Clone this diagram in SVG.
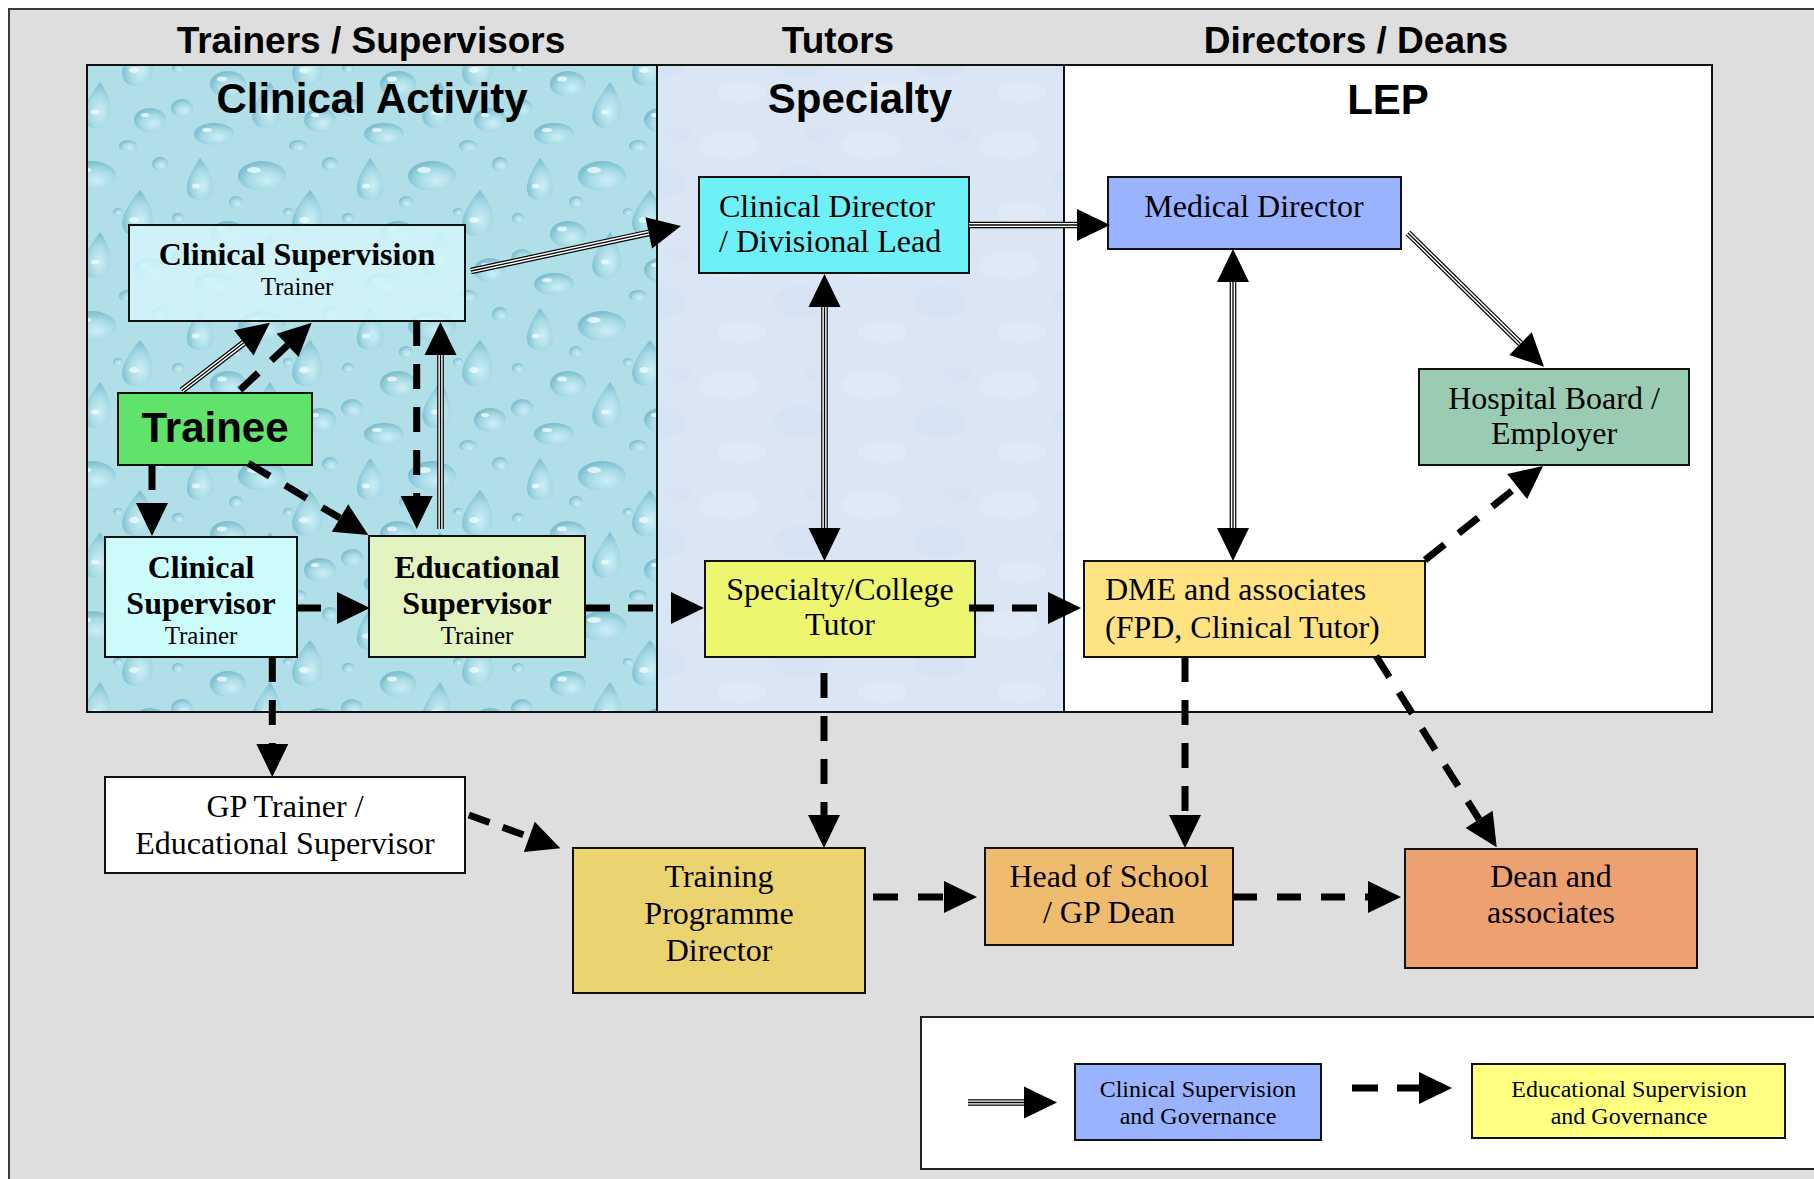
<svg xmlns="http://www.w3.org/2000/svg" width="1814" height="1179" viewBox="0 0 1814 1179">
<style>
.hdr{font-family:"Liberation Sans",Arial,sans-serif;font-weight:bold;font-size:37px;text-anchor:middle;fill:#000}
.ttl{font-family:"Liberation Sans",Arial,sans-serif;font-weight:bold;font-size:42px;text-anchor:middle;fill:#000}
.box{stroke:#111;stroke-width:2}
.tx{font-family:"Liberation Serif","Times New Roman",serif;font-size:32px;text-anchor:middle;fill:#000}
.txl{font-family:"Liberation Serif","Times New Roman",serif;font-size:32px;text-anchor:start;fill:#000}
.txb{font-family:"Liberation Serif","Times New Roman",serif;font-size:32px;font-weight:bold;text-anchor:middle;fill:#000}
.txs{font-family:"Liberation Serif","Times New Roman",serif;font-size:25px;text-anchor:middle;fill:#000}
.leg{font-family:"Liberation Serif","Times New Roman",serif;font-size:24px;text-anchor:middle;fill:#000}
.t1{fill:none;stroke:#000;stroke-width:6.6}
.t2{fill:none;stroke:#fff;stroke-width:4.2}
.t3{fill:none;stroke:#000;stroke-width:1.3}
.d{fill:none;stroke:#000;stroke-width:7;stroke-dasharray:25 18}
.dr{fill:url(#dropg)}
.hl{fill:#eefbfd;opacity:0.8}
</style>
<defs>
<marker id="ah" markerUnits="userSpaceOnUse" markerWidth="40" markerHeight="40" viewBox="0 -20 40 40" refX="0" refY="0" orient="auto-start-reverse" overflow="visible">
<path d="M0,-16 L33,0 L0,16 Z" fill="#000"/>
</marker>
<radialGradient id="dropg" cx="0.6" cy="0.65" r="0.62">
<stop offset="0" stop-color="#cdeff5"/>
<stop offset="0.6" stop-color="#a6dae5"/>
<stop offset="1" stop-color="#7ebfcf"/>
</radialGradient>
<pattern id="drops" patternUnits="userSpaceOnUse" width="170" height="150">
<rect width="170" height="150" fill="#b0dfe8"/>
<path class="dr" d="M30,8 C40,20 46,34 42,44 C38,52 22,52 18,44 C14,34 22,20 30,8 Z"/>
<ellipse class="hl" cx="26" cy="36" rx="4" ry="2.5"/>
<ellipse class="dr" cx="92" cy="26" rx="24" ry="15"/>
<ellipse class="hl" cx="84" cy="20" rx="7" ry="3"/>
<path class="dr" d="M140,40 C152,54 156,70 150,80 C144,88 128,88 124,80 C118,70 128,54 140,40 Z"/>
<ellipse class="hl" cx="134" cy="70" rx="5" ry="3"/>
<ellipse class="dr" cx="58" cy="84" rx="18" ry="13"/>
<ellipse class="hl" cx="52" cy="79" rx="5" ry="2.5"/>
<ellipse class="dr" cx="12" cy="108" rx="11" ry="9"/>
<path class="dr" d="M100,82 C110,96 114,112 108,122 C102,130 88,130 84,122 C78,112 90,96 100,82 Z"/>
<ellipse class="hl" cx="95" cy="112" rx="4" ry="2.5"/>
<ellipse class="dr" cx="150" cy="120" rx="16" ry="12"/>
<ellipse class="hl" cx="145" cy="115" rx="4" ry="2"/>
<ellipse class="dr" cx="44" cy="134" rx="20" ry="11"/>
<ellipse class="hl" cx="37" cy="130" rx="5" ry="2"/>
<ellipse class="dr" cx="128" cy="146" rx="9" ry="6"/>
<ellipse class="dr" cx="66" cy="52" rx="7" ry="6"/>
<ellipse class="dr" cx="160" cy="14" rx="8" ry="7"/>
<ellipse class="dr" cx="118" cy="62" rx="5" ry="4"/>
<ellipse class="dr" cx="8" cy="68" rx="6" ry="5"/>
</pattern>
<pattern id="paper" patternUnits="userSpaceOnUse" width="140" height="120">
<rect width="140" height="120" fill="#dae6f4"/>
<ellipse cx="30" cy="25" rx="30" ry="14" fill="#e6eef9" opacity="0.5"/>
<ellipse cx="100" cy="62" rx="26" ry="16" fill="#cfdcef" opacity="0.35"/>
<ellipse cx="42" cy="92" rx="24" ry="11" fill="#e6eef9" opacity="0.5"/>
<ellipse cx="118" cy="14" rx="14" ry="8" fill="#d2def0" opacity="0.35"/>
</pattern>
</defs>

<g id="background">
<rect x="9" y="9" width="1830" height="1190" fill="#dedede" stroke="#3a3a3a" stroke-width="2"/>
<text class="hdr" x="371" y="53">Trainers / Supervisors</text>
<text class="hdr" x="838" y="53">Tutors</text>
<text class="hdr" x="1356" y="53">Directors / Deans</text>
</g>

<g id="panel-clinical-activity">
<rect x="87" y="65" width="570" height="647" fill="url(#drops)" stroke="#111" stroke-width="2"/>
<text class="ttl" x="372" y="113">Clinical Activity</text>
</g>
<g id="panel-specialty">
<rect x="657" y="65" width="407" height="647" fill="url(#paper)" stroke="#111" stroke-width="2"/>
<text class="ttl" x="860" y="113">Specialty</text>
</g>
<g id="panel-lep">
<rect x="1064" y="65" width="648" height="647" fill="#ffffff" stroke="#111" stroke-width="2"/>
<text class="ttl" x="1388" y="114">LEP</text>
</g>

<g id="n-clinical-supervision">
<rect class="box" x="129" y="225" width="336" height="96" fill="#d3f6f9" fill-opacity="0.85"/>
<text class="txb" x="297" y="265">Clinical Supervision</text>
<text class="txs" x="297" y="295">Trainer</text>
</g>
<g id="n-trainee">
<rect class="box" x="118" y="393" width="194" height="72" fill="#5fe36a"/>
<text class="ttl" x="215" y="442">Trainee</text>
</g>
<g id="n-clinical-supervisor">
<rect class="box" x="105" y="537" width="192" height="120" fill="#cdfcfd"/>
<text class="txb" x="201" y="578">Clinical</text>
<text class="txb" x="201" y="614">Supervisor</text>
<text class="txs" x="201" y="644">Trainer</text>
</g>
<g id="n-educational-supervisor">
<rect class="box" x="369" y="536" width="216" height="121" fill="#e4f4c1"/>
<text class="txb" x="477" y="578">Educational</text>
<text class="txb" x="477" y="614">Supervisor</text>
<text class="txs" x="477" y="644">Trainer</text>
</g>
<g id="n-gp-trainer">
<rect class="box" x="105" y="777" width="360" height="96" fill="#ffffff"/>
<text class="tx" x="285" y="817">GP Trainer /</text>
<text class="tx" x="285" y="854">Educational Supervisor</text>
</g>
<g id="n-clinical-director">
<rect class="box" x="699" y="177" width="270" height="96" fill="#6ef0f7"/>
<text class="txl" x="719" y="217">Clinical Director</text>
<text class="txl" x="719" y="252">/ Divisional Lead</text>
</g>
<g id="n-medical-director">
<rect class="box" x="1108" y="177" width="293" height="72" fill="#99b3ff" stroke="#333"/>
<text class="tx" x="1254" y="217">Medical Director</text>
</g>
<g id="n-hospital-board">
<rect class="box" x="1419" y="369" width="270" height="96" fill="#9acbb3"/>
<text class="tx" x="1554" y="409">Hospital Board /</text>
<text class="tx" x="1554" y="444">Employer</text>
</g>
<g id="n-specialty-tutor">
<rect class="box" x="705" y="561" width="270" height="96" fill="#eef56e"/>
<text class="tx" x="840" y="600">Specialty/College</text>
<text class="tx" x="840" y="635">Tutor</text>
</g>
<g id="n-dme">
<rect class="box" x="1084" y="561" width="341" height="96" fill="#fee380"/>
<text class="txl" x="1105" y="600">DME and associates</text>
<text class="txl" x="1105" y="638">(FPD, Clinical Tutor)</text>
</g>
<g id="n-training-programme-director">
<rect class="box" x="573" y="848" width="292" height="145" fill="#ebd46f"/>
<text class="tx" x="719" y="887">Training</text>
<text class="tx" x="719" y="924">Programme</text>
<text class="tx" x="719" y="961">Director</text>
</g>
<g id="n-head-of-school">
<rect class="box" x="985" y="848" width="248" height="97" fill="#eebb6f"/>
<text class="tx" x="1109" y="887">Head of School</text>
<text class="tx" x="1109" y="923">/ GP Dean</text>
</g>
<g id="n-dean">
<rect class="box" x="1405" y="849" width="292" height="119" fill="#eea170"/>
<text class="tx" x="1551" y="887">Dean and</text>
<text class="tx" x="1551" y="923">associates</text>
</g>

<g id="legend">
<rect x="921" y="1017" width="910" height="152" fill="#ffffff" stroke="#222" stroke-width="2"/>
<g id="legend-clinical">
<rect class="box" x="1075" y="1064" width="246" height="76" fill="#99b3ff"/>
<text class="leg" x="1198" y="1097">Clinical Supervision</text>
<text class="leg" x="1198" y="1124">and Governance</text>
</g>
<g id="legend-educational">
<rect class="box" x="1472" y="1064" width="313" height="74" fill="#ffff80"/>
<text class="leg" x="1629" y="1097">Educational Supervision</text>
<text class="leg" x="1629" y="1124">and Governance</text>
</g>
<g id="legend-connectors">
<path class="t1" d="M968,1102.5 L1024,1102.5" marker-end="url(#ah)"/>
<path class="t2" d="M968,1102.5 L1024,1102.5"/>
<path class="t3" d="M968,1102.5 L1024,1102.5"/>
<path class="d" d="M1352,1088 L1419,1088" style="stroke-dasharray:26 19" marker-end="url(#ah)"/>
</g>
</g>

<g id="connectors">
<g id="c-cs-cd">
<path class="t1" d="M471,271 L648.7,232.9" marker-end="url(#ah)"/>
<path class="t2" d="M471,271 L648.7,232.9"/>
<path class="t3" d="M471,271 L648.7,232.9"/>
</g>
<g id="c-cd-md">
<path class="t1" d="M969,225 L1077,225" marker-end="url(#ah)"/>
<path class="t2" d="M969,225 L1077,225"/>
<path class="t3" d="M969,225 L1077,225"/>
</g>
<g id="c-md-dme">
<path class="t1" d="M1233,282 L1233,528" marker-start="url(#ah)" marker-end="url(#ah)"/>
<path class="t2" d="M1233,282 L1233,528"/>
<path class="t3" d="M1233,282 L1233,528"/>
</g>
<g id="c-cd-st">
<path class="t1" d="M824.5,307 L824.5,528" marker-start="url(#ah)" marker-end="url(#ah)"/>
<path class="t2" d="M824.5,307 L824.5,528"/>
<path class="t3" d="M824.5,307 L824.5,528"/>
</g>
<g id="c-md-hb">
<path class="t1" d="M1408,233 L1520.5,343.6" marker-end="url(#ah)"/>
<path class="t2" d="M1408,233 L1520.5,343.6"/>
<path class="t3" d="M1408,233 L1520.5,343.6"/>
</g>
<g id="c-tr-cs">
<path class="t1" d="M181.7,390.7 L243.8,342.8" marker-end="url(#ah)"/>
<path class="t2" d="M181.7,390.7 L243.8,342.8"/>
<path class="t3" d="M181.7,390.7 L243.8,342.8"/>
</g>
<g id="c-es-cs">
<path class="t1" d="M440.5,529 L440.5,355" marker-end="url(#ah)"/>
<path class="t2" d="M440.5,529 L440.5,355"/>
<path class="t3" d="M440.5,529 L440.5,355"/>
</g>
<path id="c-tr-cs-d" class="d" d="M240,390 L287.6,345.3" marker-end="url(#ah)"/>
<path id="c-cs-es-d" class="d" d="M416.7,321 L416.7,496" marker-end="url(#ah)"/>
<path id="c-tr-csor" class="d" d="M152,466 L152,503" style="stroke-dasharray:24 14" marker-end="url(#ah)"/>
<path id="c-tr-es" class="d" d="M248.3,463.3 L340,518.1" marker-end="url(#ah)"/>
<path id="c-csor-es" class="d" d="M297,608 L337,608" style="stroke-dasharray:24 16" marker-end="url(#ah)"/>
<path id="c-es-st" class="d" d="M585,608 L671,608" marker-end="url(#ah)"/>
<path id="c-st-dme" class="d" d="M969,608 L1048,608" marker-end="url(#ah)"/>
<path id="c-csor-gp" class="d" d="M272.3,657 L272.3,744" marker-end="url(#ah)"/>
<path id="c-dme-hb" class="d" d="M1425,560 L1517.2,486.6" marker-end="url(#ah)"/>
<path id="c-st-tpd" class="d" d="M824,673 L824,815" marker-end="url(#ah)"/>
<path id="c-dme-hos" class="d" d="M1185,657 L1185,815" marker-end="url(#ah)"/>
<path id="c-dme-dean" class="d" d="M1376,656 L1479.1,819.4" marker-end="url(#ah)"/>
<path id="c-gp-tpd" class="d" d="M468.8,815 L529.3,836.9" style="stroke-dasharray:22 14" marker-end="url(#ah)"/>
<path id="c-tpd-hos" class="d" d="M873,897 L944,897" style="stroke-dasharray:25 20" marker-end="url(#ah)"/>
<path id="c-hos-dean" class="d" d="M1233,897 L1368,897" style="stroke-dasharray:24 20" marker-end="url(#ah)"/>
</g>
</svg>
